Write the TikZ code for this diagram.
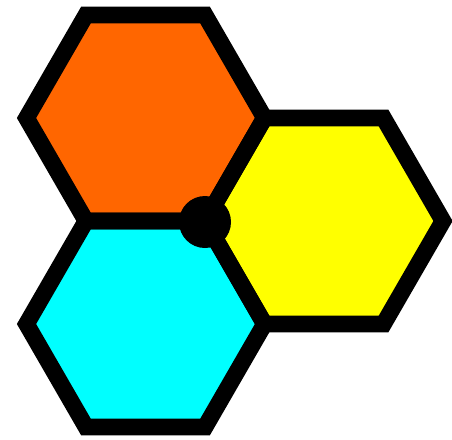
\documentclass[tikz,border=0pt]{standalone}
\usepackage{tikz}
\definecolor{hexorange}{HTML}{FF6600}
\definecolor{hexcyan}{HTML}{00FFFF}
\definecolor{hexyellow}{HTML}{FFFF00}
\begin{document}
\begin{tikzpicture}[x=0.03cm, y=-0.03cm, line join=miter,
		cellrim/.style={line width=0.5cm, draw=black}]
		\useasboundingbox (0,0) rectangle (452,439);
		% fills first, then the rims on top
		\foreach \cx/\cy/\col in {145.5/118/hexorange, 145.5/324/hexcyan, 324/221/hexyellow}
			\fill[\col] (\cx,\cy) +(0:119) -- +(60:119) -- +(120:119) -- +(180:119)
			-- +(240:119) -- +(300:119) -- cycle;
		\foreach \cx/\cy in {145.5/118, 145.5/324, 324/221}
			\draw[cellrim] (\cx,\cy) +(0:119) -- +(60:119) -- +(120:119) -- +(180:119)
			-- +(240:119) -- +(300:119) -- cycle;
		\fill (205,222) circle (26);
	\end{tikzpicture}
\end{document}
